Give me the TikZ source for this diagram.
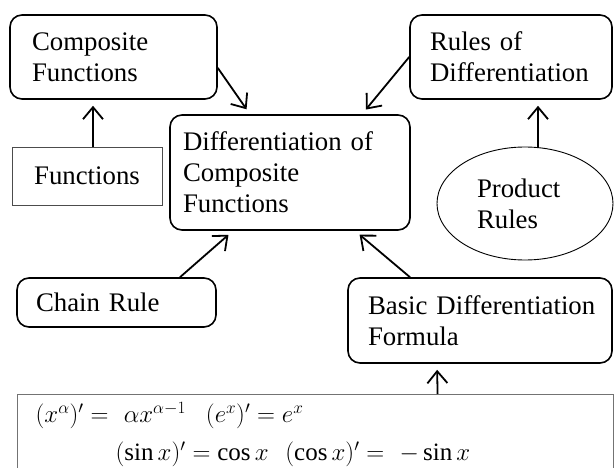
\documentclass[tikz,border=0pt]{standalone}
\usepackage{fontspec}
\setmainfont{Liberation Serif}
\usepackage{amsmath}
\usetikzlibrary{arrows.meta}
\usetikzlibrary{shapes.geometric}
\hyphenpenalty=10000

\tikzset{
  cbox/.style={draw, line width=1.6pt, rounded corners=12pt, align=left,
    inner xsep=2pt, font=\fontsize{26.8}{31}\selectfont},
  pbox/.style={draw=black!70, line width=0.9pt, inner xsep=2pt,
    font=\fontsize{26.8}{31}\selectfont},
  link/.style={->, line width=1.8pt, shorten >=6pt},
}

\begin{document}
\begin{tikzpicture}[x=1pt,y=-1pt,>={Straight Barb[length=12pt,width=20pt]}]
    \useasboundingbox (0,0) rectangle (614,468);

    % concept boxes
    \node[cbox, minimum width=207pt, minimum height=84pt, text width=163pt] (comp) at (113.5,57) {Composite\\Functions};
    \node[pbox, minimum width=150pt, minimum height=58pt] (func) at (87,176) {Functions};
    \node[cbox, minimum width=240pt, minimum height=115pt, text width=214pt] (main) at (290,172.5) {Differentiation~of\\Composite\\Functions};
    \node[cbox, minimum width=202pt, minimum height=84pt, text width=162pt] (rules) at (511,57) {Rules~of\\Differentiation};
    \node[pbox, ellipse, draw=black, minimum width=176pt, minimum height=113pt, text width=96pt, align=left] (prod) at (525,203.5) {Product\\Rules};
    \node[cbox, minimum width=199pt, minimum height=49pt, text width=161pt] (chain) at (116.5,302.5) {Chain~Rule};
    \node[cbox, minimum width=264pt, minimum height=85pt, text width=224pt] (basic) at (480,320.5) {Basic~Differentiation\\Formula};

    % formulas
    \node[draw=black!55, line width=1.2pt, anchor=north west, minimum width=596pt, minimum height=80pt,
          text width=560pt, align=left, inner xsep=2pt, font=\fontsize{25}{38}\selectfont] (form) at (17,394)
        {$(x^{\alpha})' =\ \alpha x^{\alpha-1}$\hspace{20pt}$(e^{x})' = e^{x}$\\
         \hspace*{80pt}$(\sin x)' = \cos x$\ \ $(\cos x)' =\ -\sin x$};

    % links
    \draw[link] ([xshift=6pt]func.north) -- ([xshift=-20.5pt]comp.south);
    \draw[link] (comp.-6) -- ([xshift=-40pt]main.north);
    \draw[link] (rules.west) -- ([xshift=72pt]main.north);
    \draw[link] ([xshift=13pt]prod.north) -- ([xshift=27pt]rules.south);
    \draw[link] ([xshift=63.5pt]chain.north) -- ([xshift=-57pt]main.south);
    \draw[link] ([xshift=-70pt]basic.north) -- ([xshift=65pt]main.south);
    \draw[link] ([xshift=122pt]form.north) -- ([xshift=-43pt]basic.south);
\end{tikzpicture}
\end{document}
